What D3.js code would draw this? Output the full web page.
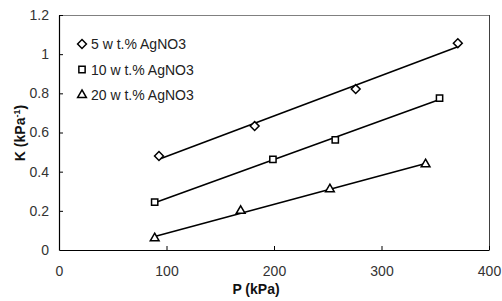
<!DOCTYPE html>
<html>
<head>
<meta charset="utf-8">
<script src="https://cdn.jsdelivr.net/npm/d3@7"></script>
<style>
  body { margin: 0; background: #fff; }
  svg text { font-family: "Liberation Sans", Arial, sans-serif; }
</style>
</head>
<body>
<div id="chart"></div>
<script>
// K vs P for three AgNO3 loadings, with linear trendlines

var seriesNames = ["5 w t.% AgNO3", "10 w t.% AgNO3", "20 w t.% AgNO3"];
var seriesSymbols = ["diamond", "square", "triangle"];

var pDiamond = [93, 182, 276, 371];
var kDiamond = [0.48, 0.633, 0.822, 1.056];

var pSquare = [89, 199, 257, 354];
var kSquare = [0.244, 0.463, 0.562, 0.775];

var pTriangle = [89, 169, 252, 341];
var kTriangle = [0.06, 0.20, 0.31, 0.438];

var xTicks = [0, 100, 200, 300, 400];
var yTicks = [0, 0.2, 0.4, 0.6, 0.8, 1, 1.2];

var series = [
    { name: seriesNames[0], symbol: seriesSymbols[0], p: pDiamond, k: kDiamond },
    { name: seriesNames[1], symbol: seriesSymbols[1], p: pSquare, k: kSquare },
    { name: seriesNames[2], symbol: seriesSymbols[2], p: pTriangle, k: kTriangle }
];

var totalW = 502, totalH = 301;
var margin = { top: 15, right: 13, bottom: 51, left: 59 };
var width = totalW - margin.left - margin.right;
var height = totalH - margin.top - margin.bottom;

var svg = d3.select("#chart").append("svg")
    .attr("width", totalW)
    .attr("height", totalH);

var g = svg.append("g")
    .attr("transform", "translate(" + margin.left + "," + margin.top + ")");

var x = d3.scaleLinear().domain([0, 400]).range([0, width]);
var y = d3.scaleLinear().domain([0, 1.2]).range([height, 0]);

// frame (top/right in grey like the original)
g.append("line")
    .attr("x1", 0).attr("x2", width).attr("y1", 0.5).attr("y2", 0.5)
    .attr("stroke", "#808080").attr("stroke-width", 1.2);
g.append("line")
    .attr("x1", width + 0.5).attr("x2", width + 0.5).attr("y1", 0).attr("y2", height)
    .attr("stroke", "#404040").attr("stroke-width", 1);

// --- Axes, ticks inside ---
var xAxis = g.append("g")
    .attr("transform", "translate(0," + height + ")")
    .call(d3.axisBottom(x).tickValues(xTicks).tickSizeInner(-4).tickSizeOuter(0).tickPadding(16).tickFormat(d3.format("d")));
var yAxis = g.append("g")
    .call(d3.axisLeft(y).tickValues(yTicks).tickSizeInner(-4).tickSizeOuter(0).tickPadding(10).tickFormat(function(d) { return d3.format("")(+d.toFixed(1)); }));

[xAxis, yAxis].forEach(function(ax) {
    ax.select(".domain").attr("stroke", "#000").attr("stroke-width", 1.2);
    ax.selectAll(".tick line").attr("stroke", "#000");
    ax.selectAll(".tick text")
        .style("font-size", "14px")
        .style("fill", "#333")
        .style("font-family", "Liberation Sans, Arial, sans-serif");
});
xAxis.select(".tick:first-of-type line").remove();
yAxis.select(".tick:first-of-type line").remove();

// --- Axis labels ---
svg.append("text")
    .attr("x", 256)
    .attr("y", 294)
    .attr("text-anchor", "middle")
    .style("font-size", "14px")
    .style("font-weight", "bold")
    .style("fill", "#111")
    .text("P (kPa)");

var yl = svg.append("text")
    .attr("transform", "translate(25,133) rotate(-90)")
    .attr("text-anchor", "middle")
    .style("font-size", "14px")
    .style("font-weight", "bold")
    .style("fill", "#111");
yl.append("tspan").text("K (kPa");
yl.append("tspan").attr("dy", -5).style("font-size", "9px").text("-1");
yl.append("tspan").attr("dy", 5).text(")");

// --- Trendlines (least squares, like a spreadsheet linear trendline) ---
series.forEach(function(s) {
    var n = s.p.length;
    var mx = d3.mean(s.p), my = d3.mean(s.k);
    var sxy = 0, sxx = 0;
    for (var i = 0; i < n; i++) {
        sxy += (s.p[i] - mx) * (s.k[i] - my);
        sxx += (s.p[i] - mx) * (s.p[i] - mx);
    }
    var slope = sxy / sxx, icept = my - slope * mx;
    var x0 = d3.min(s.p), x1 = d3.max(s.p);
    g.append("line")
        .attr("x1", x(x0)).attr("y1", y(icept + slope * x0))
        .attr("x2", x(x1)).attr("y2", y(icept + slope * x1))
        .attr("stroke", "#000")
        .attr("stroke-width", 1.6);
});

// --- Markers ---
function symbolPath(kind) {
    if (kind === "diamond") return d3.symbol().type(d3.symbolDiamond2).size(50)();
    if (kind === "square") return d3.symbol().type(d3.symbolSquare2).size(50)();
    return d3.symbol().type(d3.symbolTriangle2).size(55)();
}

series.forEach(function(s) {
    g.selectAll(null)
        .data(s.p.map(function(p, i) { return [p, s.k[i]]; }))
        .enter().append("path")
        .attr("d", symbolPath(s.symbol))
        .attr("transform", function(d) { return "translate(" + x(d[0]) + "," + y(d[1]) + ")"; })
        .attr("fill", "#fff")
        .attr("stroke", "#000")
        .attr("stroke-width", 1.5);
});

// --- Legend ---
var legend = svg.append("g").attr("transform", "translate(82,44)");
series.forEach(function(s, i) {
    var row = legend.append("g").attr("transform", "translate(0," + (i * 25.5) + ")");
    row.append("path")
        .attr("d", symbolPath(s.symbol))
        .attr("fill", "#fff")
        .attr("stroke", "#000")
        .attr("stroke-width", 1.5);
    row.append("text")
        .attr("x", 9)
        .attr("y", 5)
        .style("font-size", "14px")
        .style("fill", "#222")
        .text(s.name);
});
</script>
</body>
</html>
